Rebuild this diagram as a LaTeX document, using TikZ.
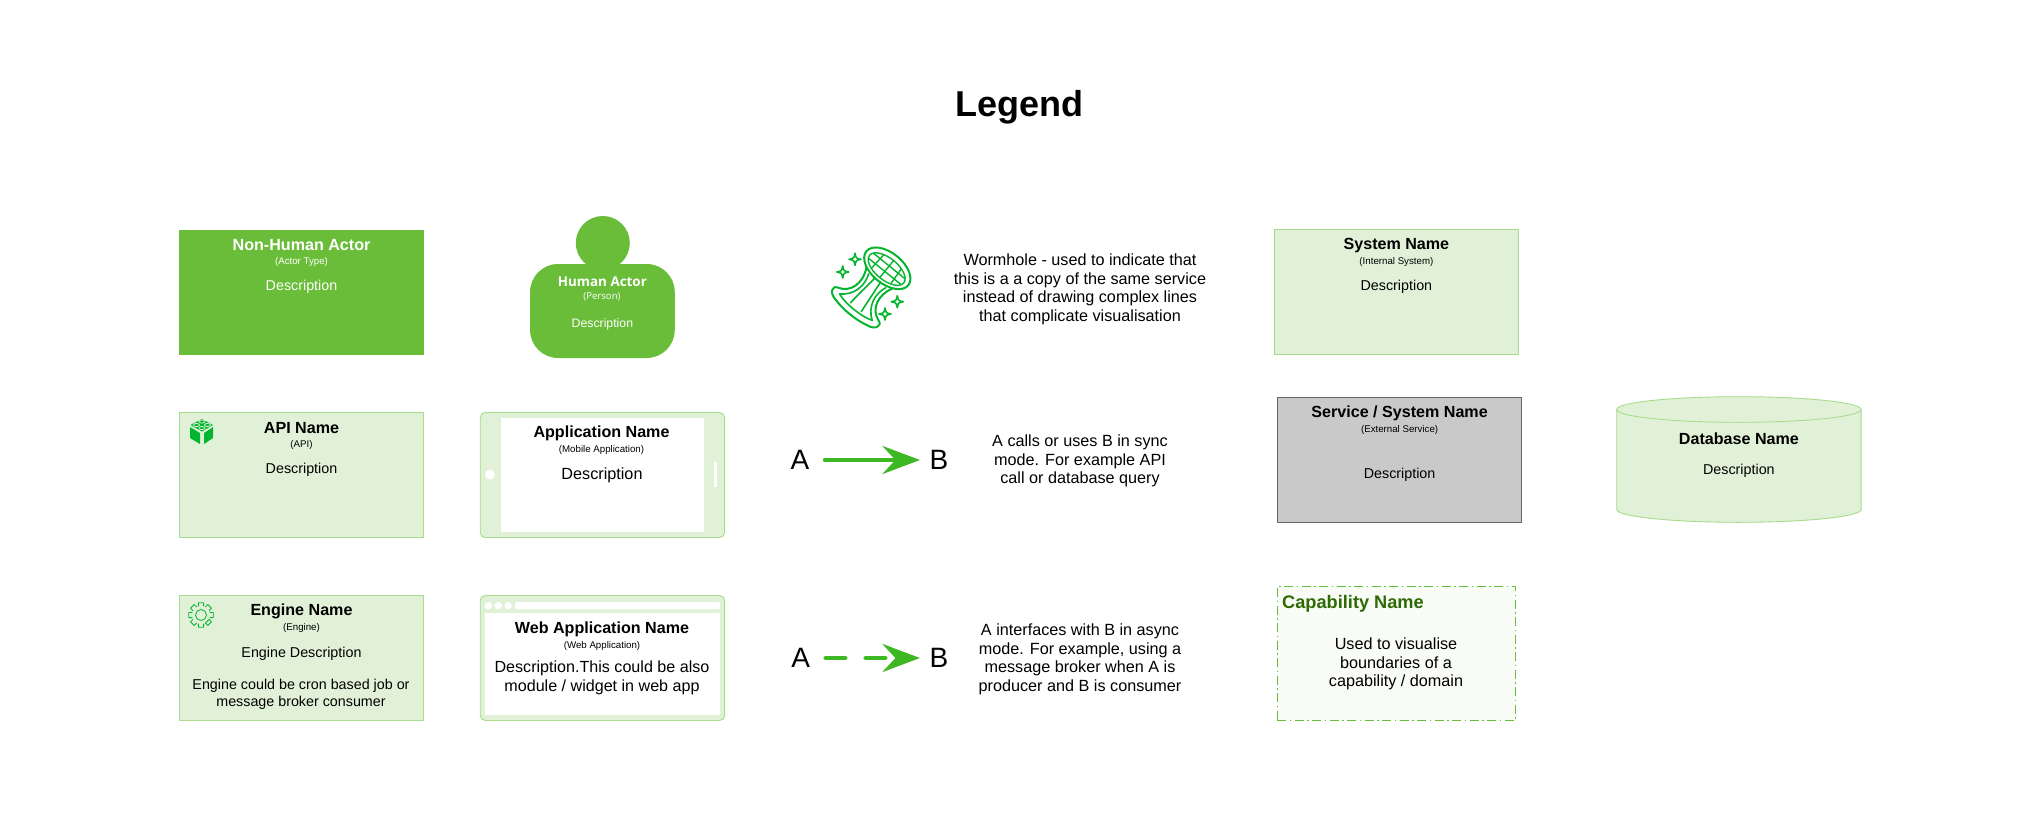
\documentclass[tikz,border=0pt]{standalone}
\usepackage{fontspec}
\setmainfont{Liberation Sans}
\newfontfamily\openfont{Open Sans}
\usetikzlibrary{arrows.meta}
\definecolor{actorgreen}{HTML}{6ABD38}
\definecolor{palegreen}{HTML}{E1F1D7}
\definecolor{edgegreen}{HTML}{A8DC8D}
\definecolor{icongreen}{HTML}{05B52F}
\definecolor{arrowgreen}{HTML}{3DB822}
\definecolor{capgreen}{HTML}{2D6A04}
\definecolor{capfill}{HTML}{F9FCF6}
\definecolor{extgrey}{HTML}{C9C9C9}
\tikzset{
	box/.style={minimum width=244.4pt,minimum height=125pt,inner sep=0pt},
	greenbox/.style={box,fill=palegreen,draw=edgegreen,line width=.9pt},
	screen/.style={fill=white,inner sep=0pt},
	nametxt/.style={font=\fontsize{16.1}{20}\selectfont\bfseries,inner sep=0pt,yshift=-1pt},
	typetxt/.style={font=\fontsize{9.7}{12}\selectfont,inner sep=0pt,yshift=-1pt},
	desctxt/.style={font=\fontsize{14.3}{16.4}\selectfont,inner sep=0pt,align=center,yshift=-2pt},
	noteline/.style={font=\fontsize{16.2}{18.6}\selectfont,inner sep=0pt,align=center,yshift=-2pt},
	endtxt/.style={font=\fontsize{28}{32}\selectfont},
	iconline/.style={draw=icongreen,line width=2pt},
	flowline/.style={arrowgreen,line width=4.5pt,-{Stealth[length=37.5pt,width=28pt,inset=13pt]}},
	sparkle/.pic={\draw[iconline,line width=1.6pt] (0,-6) .. controls (1,-1) .. (6,0) .. controls (1,1) .. (0,6) .. controls (-1,1) .. (-6,0) .. controls (-1,-1) .. cycle;}
}
\begin{document}
\begin{tikzpicture}[x=1pt,y=-1pt,line join=round,line cap=round]
	\useasboundingbox[fill=white] (0,0) rectangle (2040,824);
	\node[font=\fontsize{36}{40}\selectfont\bfseries,inner sep=0pt] (legend) at (1019,107.7) {Legend};

	\node[box,fill=actorgreen] (actor) at (301.5,292) {};
	\node[nametxt,white] (actorname) at (301.5,244) {Non-Human Actor};
	\node[typetxt,white] (actortype) at (301.5,260.7) {(Actor Type)};
	\node[desctxt,white] (actordesc) at (301.5,285) {Description};

	\node[circle,fill=actorgreen,minimum size=54pt,inner sep=0pt] (head) at (602.8,243) {};
	\node[fill=actorgreen,rounded corners=28pt,minimum width=144.7pt,minimum height=94pt,inner sep=0pt] (body) at (602.4,311) {};
	\node[font=\openfont\fontsize{13.4}{15}\selectfont\bfseries,white,inner sep=0pt] (humanname) at (602.4,281.7) {Human Actor};
	\node[font=\openfont\fontsize{9.6}{12}\selectfont,white,inner sep=0pt] (humantype) at (602,297) {(Person)};
	\node[font=\fontsize{12.3}{15}\selectfont,white,inner sep=0pt] (humandesc) at (602.4,324.7) {Description};

	\begin{scope}[shift={(887.3,268.3)},rotate=-39]
		\draw[iconline] (0,0) ellipse[x radius=27pt,y radius=15.5pt];
		\draw[iconline,line width=1.4pt] (0,1) ellipse[x radius=22pt,y radius=11pt];
		\begin{scope}
			\clip (0,1) ellipse[x radius=22pt,y radius=11pt];
			\foreach \gx in {-11,0,11}{\draw[iconline,line width=1.4pt] (\gx,-12) -- (\gx*1.15,14);}
			\foreach \gy in {-3,4}{\draw[iconline,line width=1.4pt] (-24,\gy) -- (24,\gy);}
		\end{scope}
		\draw[iconline] (-17,12) .. controls (-9,26) and (-13,42) .. (-26,46) .. controls (-33,48) and (-29,56) .. (-20,57) .. controls (-8,60) and (8,60) .. (20,57) .. controls (29,56) and (33,48) .. (26,46) .. controls (13,42) and (9,26) .. (17,12);
		\draw[iconline,line width=1.6pt] (-11,16) .. controls (-6,28) and (-9,42) .. (-21,50) .. controls (-10,54) and (10,54) .. (21,50) .. controls (9,42) and (6,28) .. (11,16);
		\draw[iconline,line width=1.6pt] (-3.5,15) -- (-7,50);
		\draw[iconline,line width=1.6pt] (3.5,15) -- (7,50);
	\end{scope}
	\pic at (855,259.3) {sparkle};
	\pic at (842.7,272) {sparkle};
	\pic at (897.3,301.7) {sparkle};
	\pic at (885,314) {sparkle};
	\node[noteline] (wormholenote) at (1080,287.5) {Wormhole - used to indicate that\\this is a a copy of the same service\\instead of drawing complex lines\\that complicate visualisation};

	\node[greenbox] (system) at (1396.4,292) {};
	\node[nametxt] (systemname) at (1396.4,244.3) {System Name};
	\node[typetxt] (systemtype) at (1396.4,260.7) {(Internal System)};
	\node[desctxt] (systemdesc) at (1396.4,285) {Description};

	\node[greenbox] (api) at (301.5,475) {};
	\fill[icongreen] (190,427) -- (200,433) -- (200,444) -- (190,438) -- cycle;
	\fill[icongreen] (204,433) -- (213,427) -- (213,438) -- (204,444) -- cycle;
	\fill[icongreen] (202,419) -- (213,425) -- (202,431.5) -- (190.5,425) -- cycle;
	\foreach \sx/\sy in {202/421.5,196.5/425,207.5/425,202/428}{\draw[palegreen,line width=.8pt] (\sx,\sy) ellipse[x radius=3pt,y radius=1.6pt];}
	\node[nametxt] (apiname) at (301.5,427) {API Name};
	\node[typetxt] (apitype) at (301.5,443.7) {(API)};
	\node[desctxt] (apidesc) at (301.5,468) {Description};

	\node[box,fill=palegreen,draw=edgegreen,line width=.9pt,rounded corners=5pt] (mobile) at (602.4,475) {};
	\node[screen,minimum width=203.2pt,minimum height=113.4pt] (mobilescreen) at (602.6,475) {};
	\node[circle,fill=white,minimum size=10pt,inner sep=0pt] (mobilehome) at (489.9,474.7) {};
	\node[fill=white,minimum width=3pt,minimum height=24.4pt,inner sep=0pt] (mobilebar) at (715.7,474.5) {};
	\node[nametxt] (mobilename) at (601.5,432.3) {Application Name};
	\node[typetxt] (mobiletype) at (601.5,448.7) {(Mobile Application)};
	\node[desctxt,font=\fontsize{16.2}{19}\selectfont] (mobiledesc) at (602,473) {Description};

	\node[endtxt,inner sep=15.5pt] (A) at (800,460) {A};
	\node[endtxt,inner sep=9.5pt] (B) at (939,460) {B};
	\draw[flowline] (A) -- (B);
	\node[noteline] (syncnote) at (1080,459) {A calls or uses B in sync\\mode. For example API\\call or database query};

	\node[box,fill=extgrey,draw=black!60,line width=.9pt] (service) at (1399.6,459.8) {};
	\node[nametxt] (servicename) at (1399.6,412.3) {Service / System Name};
	\node[typetxt] (servicetype) at (1399.6,428.7) {(External Service)};
	\node[desctxt] (servicedesc) at (1399.6,472.3) {Description};

	\draw[edgegreen,fill=palegreen,line width=.9pt] (1616.7,409.5) -- (1616.7,509.5) arc[start angle=180,end angle=360,x radius=122.2pt,y radius=12.8pt] -- (1861.1,409.5) arc[start angle=0,end angle=180,x radius=122.2pt,y radius=12.8pt] -- cycle;
	\draw[edgegreen,line width=.9pt] (1616.7,409.5) arc[start angle=180,end angle=360,x radius=122.2pt,y radius=12.8pt];
	\node[nametxt] (dbname) at (1738.9,437.3) {Database Name};
	\node[desctxt] (dbdesc) at (1738.9,468.3) {Description};

	\node[greenbox] (engine) at (301.5,658) {};
	\draw[icongreen,line width=.8pt] (201,615) circle[radius=5.5pt];
	\draw[icongreen,line width=.8pt] \foreach \ga in {0,45,...,315}{ ([shift={(\ga-22.5+6:9.2pt)}]201,615) -- ([shift={(\ga-12:12.5pt)}]201,615) -- ([shift={(\ga+12:12.5pt)}]201,615) -- ([shift={(\ga+22.5-6:9.2pt)}]201,615) } -- cycle;
	\node[nametxt] (enginename) at (301.5,610.7) {Engine Name};
	\node[typetxt] (enginetype) at (301.5,627.3) {(Engine)};
	\node[desctxt] (enginedesc) at (301.5,651.3) {Engine Description};
	\node[desctxt] (enginenote) at (301,692.3) {Engine could be cron based job or\\message broker consumer};

	\node[box,fill=palegreen,draw=edgegreen,line width=.9pt,rounded corners=5pt] (web) at (602.4,658) {};
	\node[screen,minimum width=235pt,minimum height=102.3pt] (webscreen) at (602.4,663.8) {};
	\node[fill=white,rounded corners=2pt,minimum width=205pt,minimum height=7.3pt,inner sep=0pt] (webbar) at (617.5,605.7) {};
	\foreach \wx/\wn in {488.4/a,498.3/b,508.3/c}{\node[circle,fill=white,minimum size=7.4pt,inner sep=0pt] (webdot\wn) at (\wx,605.7) {};}
	\node[nametxt] (webname) at (602,628.3) {Web Application Name};
	\node[typetxt] (webtype) at (602,644.7) {(Web Application)};
	\node[desctxt,font=\fontsize{16.1}{19}\selectfont] (webdesc) at (602,676.2) {Description.This could be also\\module / widget in web app};

	\node[endtxt,inner sep=15.5pt] (A2) at (800.7,658) {A};
	\node[endtxt,inner sep=9.5pt] (B2) at (939,658) {B};
	\draw[flowline,dash pattern=on 19.5pt off 20.5pt] (A2) -- (B2);
	\node[noteline] (asyncnote) at (1080,657.5) {A interfaces with B in async\\mode. For example, using a\\message broker when A is\\producer and B is consumer};

	\node[fill=capfill,draw=actorgreen,line width=1pt,line cap=butt,dash pattern=on 9pt off 3.5pt on 1.5pt off 3.5pt,minimum width=238.4pt,minimum height=134pt,inner sep=0pt] (capability) at (1396.5,653.3) {};
	\node[font=\fontsize{18.2}{22}\selectfont\bfseries,capgreen,inner sep=0pt,anchor=west,yshift=-1.5pt] (capname) at (1282,602.7) {Capability Name};
	\node[noteline] (capnote) at (1396,662) {Used to visualise\\boundaries of a\\capability / domain};
\end{tikzpicture}
\end{document}
